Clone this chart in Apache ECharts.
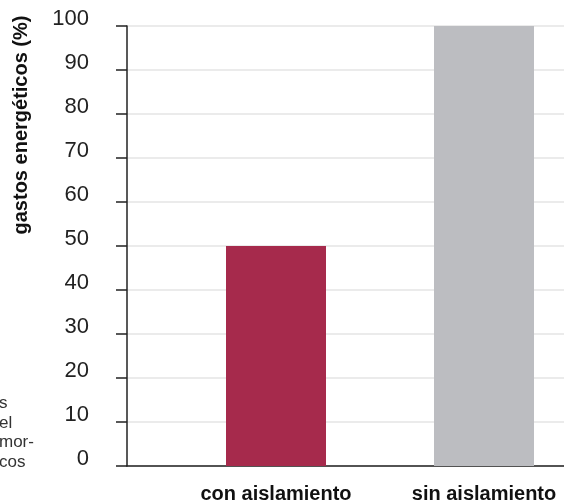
<!DOCTYPE html>
<html>
<head>
<meta charset="utf-8">
<script src="https://cdn.jsdelivr.net/npm/echarts@6/dist/echarts.min.js"></script>
<style>
html,body{margin:0;padding:0;background:#fff;}
#chart{width:564px;height:502px;}
</style>
</head>
<body>
<div id="chart"></div>
<script>
var categories = ['con aislamiento', 'sin aislamiento'];
var values = [50, 100];
var barColors = ['#A62A4C', '#BCBDC1'];
var yTicks = [0, 10, 20, 30, 40, 50, 60, 70, 80, 90, 100];
var yTitle = 'gastos energéticos (%)';
var sideText = ['s', 'el', 'mor-', 'cos'];

var chart = echarts.init(document.getElementById('chart'));
var font = '"Liberation Sans", Arial, Helvetica, sans-serif';

var graphics = [{
  type: 'text',
  x: 21, y: 125,
  rotation: Math.PI / 2,
  style: {
    text: yTitle,
    font: 'bold 20px ' + font,
    fill: '#111',
    textAlign: 'center',
    textVerticalAlign: 'middle'
  }
}];
sideText.forEach(function (t, i) {
  graphics.push({
    type: 'text',
    x: -1, y: 412 + i * 19.5,
    style: {
      text: t,
      font: '17px ' + font,
      fill: '#333',
      textAlign: 'left',
      textVerticalAlign: 'bottom'
    }
  });
});

var series = categories.map(function (name, i) {
  return {
    type: 'bar',
    name: name,
    xAxisIndex: 1, yAxisIndex: 1,
    barWidth: 100,
    barGap: '108%',
    itemStyle: { color: barColors[i] },
    label: {
      show: true,
      position: 'bottom',
      distance: 18,
      formatter: name,
      fontFamily: font, fontSize: 20, fontWeight: 'bold', color: '#111'
    },
    data: [values[i]]
  };
});

chart.setOption({
  animation: false,
  backgroundColor: '#fff',
  grid: [
    { left: 127, right: 0, top: 26, bottom: 36 },
    { left: 196, right: 0, top: 26, bottom: 36 }
  ],
  xAxis: [
    {
      gridIndex: 0, type: 'category', data: [''],
      axisLine: { lineStyle: { color: '#222', width: 1.5 } },
      axisTick: { show: false }, axisLabel: { show: false }
    },
    {
      gridIndex: 1, type: 'category', data: [''],
      axisLine: { show: false }, axisTick: { show: false },
      axisLabel: { show: false }
    }
  ],
  yAxis: [
    {
      gridIndex: 0, type: 'value', min: 0, max: 100, interval: 10,
      axisLine: { show: true, lineStyle: { color: '#222', width: 1.5 } },
      axisTick: { show: true, length: 11, lineStyle: { color: '#222', width: 1.5 } },
      splitLine: { show: true, lineStyle: { color: '#e4e4e4', width: 1.5 } },
      axisLabel: {
        margin: 38,
        fontFamily: font, fontSize: 22, color: '#222',
        verticalAlign: 'bottom', lineHeight: 14,
        formatter: function (v) { return yTicks.indexOf(v) >= 0 ? String(v) : ''; }
      }
    },
    {
      gridIndex: 1, type: 'value', min: 0, max: 100, interval: 10, show: false,
      splitLine: { show: false }
    }
  ],
  series: series,
  graphic: graphics
});
</script>
</body>
</html>
